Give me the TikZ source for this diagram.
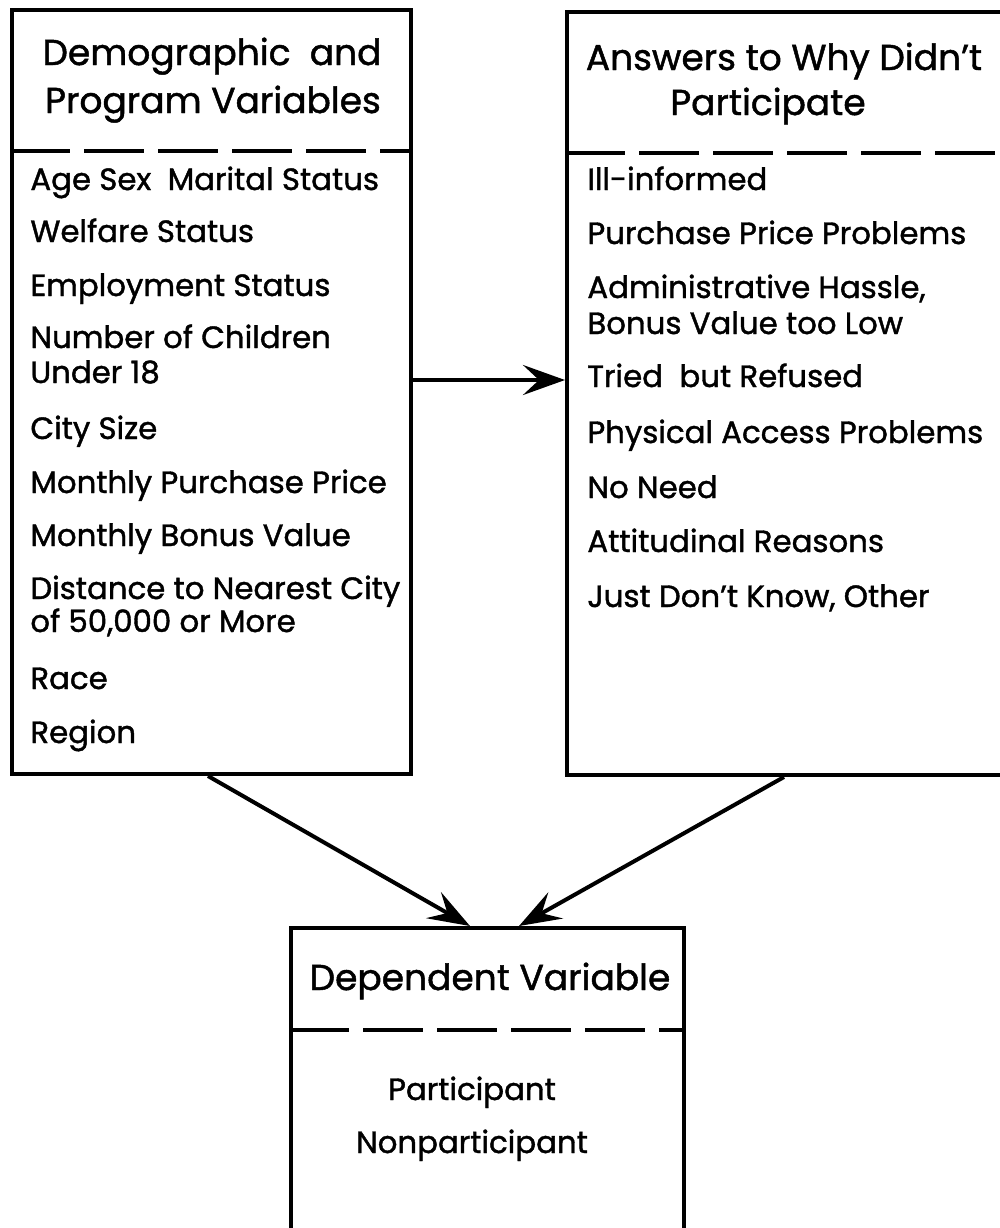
\documentclass[tikz,border=0pt]{standalone}
\usepackage{fontspec}
\setmainfont{Poppins}[FakeBold=1.3]
\usetikzlibrary{arrows.meta,fit}
\begin{document}
\begin{tikzpicture}[x=0.5pt,y=-0.5pt,
  box/.style={draw, line width=2pt, inner sep=0pt, rectangle},
  sep/.style={line width=1.6pt, dash pattern=on 30pt off 7pt},
  link/.style={line width=2pt, -{Stealth[length=21pt,width=15pt,inset=8pt]}},
  item/.style={anchor=base west, inner sep=0pt, font=\fontsize{15.4}{18}\selectfont},
  head/.style={anchor=base, inner sep=0pt, font=\fontsize{18}{21}\selectfont},
  centred/.style={anchor=base, inner sep=0pt, font=\fontsize{15.4}{18}\selectfont}]
\useasboundingbox (0,0) rectangle (1000,1228);
\clip (0,0) rectangle (1000,1228);

% the three boxes
\node[box, fit={(12,10) (411,774)}] (demo) {};
\node[box, fit={(567,12) (1040,775)}] (why) {};
\node[box, fit={(291,928) (684,1300)}] (dep) {};

% dashed rules under the headings
\draw[sep] (demo.west |- 0,151) -- (demo.east |- 0,151);
\draw[sep] (why.west |- 0,153) -- (why.east |- 0,153);
\draw[sep] (dep.west |- 0,1030) -- (dep.east |- 0,1030);

% headings
\node[head] (h1a) at (212,65) {Demographic\ \ and};
\node[head] (h1b) at (213,113) {Program Variables};
\node[head] (h2a) at (784,70) {Answers to Why Didn\char39 t};
\node[head] (h2b) at (768,115) {Participate};
\node[head] (h3) at (490,990) {Dependent Variable};

% demographic and program variables
\node[item] (d1) at (30,190) {Age Sex\ \ Marital Status};
\node[item] (d2) at (30,242) {Welfare Status};
\node[item] (d3) at (30,296) {Employment Status};
\node[item] (d4) at (30,348) {Number of Children};
\node[item] (d5) at (30,383) {Under 18};
\node[item] (d6) at (30,439) {City Size};
\node[item] (d7) at (30,493) {Monthly Purchase Price};
\node[item] (d8) at (30,546) {Monthly Bonus Value};
\node[item] (d9) at (30,599) {Distance to Nearest City};
\node[item] (d10) at (30,632) {of 50,000 or More};
\node[item] (d11) at (30,689) {Race};
\node[item] (d12) at (30,743) {Region};

% reasons for not participating
\node[item] (w1) at (587,190) {Ill-informed};
\node[item] (w2) at (587,244) {Purchase Price Problems};
\node[item] (w3) at (587,298) {Administrative Hassle,};
\node[item] (w4) at (587,334) {Bonus Value too Low};
\node[item] (w5) at (587,387) {Tried\ \ but Refused};
\node[item] (w6) at (587,443) {Physical Access Problems};
\node[item] (w7) at (587,498) {No Need};
\node[item] (w8) at (587,552) {Attitudinal Reasons};
\node[item] (w9) at (587,607) {Just Don\char39 t Know, Other};

% dependent variable values
\node[centred] (p1) at (472,1100) {Participant};
\node[centred] (p2) at (472,1153) {Nonparticipant};

% connectors
\draw[link] (demo.east |- 0,380) -- (why.west |- 0,380);
\draw[link] (demo.south -| 208,0) -- (dep.north -| 470,0);
\draw[link] (why.south -| 784,0) -- (dep.north -| 519,0);
\end{tikzpicture}
\end{document}
